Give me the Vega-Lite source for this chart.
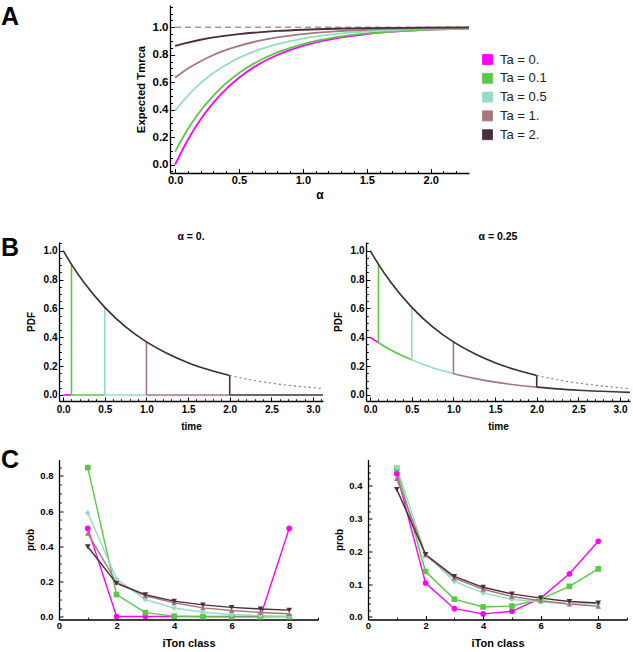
{
  "$schema": "https://vega.github.io/schema/vega-lite/v6.json",
  "padding": {"left": 1, "top": 5, "right": 2, "bottom": 2},
  "background": "white",
  "config": {
    "view": {"stroke": null},
    "font": "Liberation Sans",
    "axis": {"grid": false, "domainColor": "#000", "domainWidth": 1.3, "tickColor": "#000", "tickWidth": 1, "labelFont": "Liberation Sans", "labelFontWeight": "bold", "labelColor": "#000", "labelFlush": false, "labelOverlap": false, "titleFont": "Liberation Sans", "titleFontWeight": "bold", "titleColor": "#000"},
    "title": {"font": "Liberation Sans", "color": "#000"}
  },
  "resolve": {"scale": {"shape": "independent"}, "legend": {"shape": "independent"}},
  "datasets": {
    "A": [
      {"s":"Ta = 0.","a":0,"E":0},{"s":"Ta = 0.","a":0.1,"E":0.181},{"s":"Ta = 0.","a":0.2,"E":0.33},{"s":"Ta = 0.","a":0.3,"E":0.451},{"s":"Ta = 0.","a":0.4,"E":0.551},{"s":"Ta = 0.","a":0.5,"E":0.632},{"s":"Ta = 0.","a":0.65,"E":0.728},{"s":"Ta = 0.","a":0.8,"E":0.798},{"s":"Ta = 0.","a":1,"E":0.865},{"s":"Ta = 0.","a":1.25,"E":0.918},{"s":"Ta = 0.","a":1.5,"E":0.95},{"s":"Ta = 0.","a":1.8,"E":0.973},{"s":"Ta = 0.","a":2.3,"E":0.99},
      {"s":"Ta = 0.1","a":0,"E":0.095},{"s":"Ta = 0.1","a":0.1,"E":0.259},{"s":"Ta = 0.1","a":0.2,"E":0.394},{"s":"Ta = 0.1","a":0.3,"E":0.503},{"s":"Ta = 0.1","a":0.4,"E":0.593},{"s":"Ta = 0.1","a":0.5,"E":0.667},{"s":"Ta = 0.1","a":0.65,"E":0.753},{"s":"Ta = 0.1","a":0.8,"E":0.817},{"s":"Ta = 0.1","a":1,"E":0.878},{"s":"Ta = 0.1","a":1.25,"E":0.926},{"s":"Ta = 0.1","a":1.5,"E":0.955},{"s":"Ta = 0.1","a":1.8,"E":0.975},{"s":"Ta = 0.1","a":2.3,"E":0.991},
      {"s":"Ta = 0.5","a":0,"E":0.393},{"s":"Ta = 0.5","a":0.1,"E":0.503},{"s":"Ta = 0.5","a":0.2,"E":0.593},{"s":"Ta = 0.5","a":0.3,"E":0.667},{"s":"Ta = 0.5","a":0.4,"E":0.727},{"s":"Ta = 0.5","a":0.5,"E":0.777},{"s":"Ta = 0.5","a":0.65,"E":0.835},{"s":"Ta = 0.5","a":0.8,"E":0.878},{"s":"Ta = 0.5","a":1,"E":0.918},{"s":"Ta = 0.5","a":1.25,"E":0.95},{"s":"Ta = 0.5","a":1.5,"E":0.97},{"s":"Ta = 0.5","a":1.8,"E":0.983},{"s":"Ta = 0.5","a":2.3,"E":0.994},
      {"s":"Ta = 1.","a":0,"E":0.632},{"s":"Ta = 1.","a":0.1,"E":0.699},{"s":"Ta = 1.","a":0.2,"E":0.753},{"s":"Ta = 1.","a":0.3,"E":0.798},{"s":"Ta = 1.","a":0.4,"E":0.835},{"s":"Ta = 1.","a":0.5,"E":0.865},{"s":"Ta = 1.","a":0.65,"E":0.9},{"s":"Ta = 1.","a":0.8,"E":0.926},{"s":"Ta = 1.","a":1,"E":0.95},{"s":"Ta = 1.","a":1.25,"E":0.97},{"s":"Ta = 1.","a":1.5,"E":0.982},{"s":"Ta = 1.","a":1.8,"E":0.99},{"s":"Ta = 1.","a":2.3,"E":0.996},
      {"s":"Ta = 2.","a":0,"E":0.865},{"s":"Ta = 2.","a":0.1,"E":0.889},{"s":"Ta = 2.","a":0.2,"E":0.909},{"s":"Ta = 2.","a":0.3,"E":0.926},{"s":"Ta = 2.","a":0.4,"E":0.939},{"s":"Ta = 2.","a":0.5,"E":0.95},{"s":"Ta = 2.","a":0.65,"E":0.963},{"s":"Ta = 2.","a":0.8,"E":0.973},{"s":"Ta = 2.","a":1,"E":0.982},{"s":"Ta = 2.","a":1.25,"E":0.989},{"s":"Ta = 2.","a":1.5,"E":0.993},{"s":"Ta = 2.","a":1.8,"E":0.996},{"s":"Ta = 2.","a":2.3,"E":0.999}
    ],
    "B": [
      {"part":"top","p":"all","s":"Ta = 2.","t":0,"y":1},{"part":"top","p":"all","s":"Ta = 2.","t":0.1,"y":0.905},{"part":"top","p":"all","s":"Ta = 2.","t":0.25,"y":0.779},{"part":"top","p":"all","s":"Ta = 2.","t":0.5,"y":0.607},{"part":"top","p":"all","s":"Ta = 2.","t":0.75,"y":0.472},{"part":"top","p":"all","s":"Ta = 2.","t":1,"y":0.368},{"part":"top","p":"all","s":"Ta = 2.","t":1.25,"y":0.287},{"part":"top","p":"all","s":"Ta = 2.","t":1.5,"y":0.223},{"part":"top","p":"all","s":"Ta = 2.","t":1.75,"y":0.174},{"part":"top","p":"all","s":"Ta = 2.","t":2,"y":0.135},
      {"part":"dot","p":"all","s":"ref","t":2,"y":0.135},{"part":"dot","p":"all","s":"ref","t":2.25,"y":0.105},{"part":"dot","p":"all","s":"ref","t":2.5,"y":0.082},{"part":"dot","p":"all","s":"ref","t":2.75,"y":0.064},{"part":"dot","p":"all","s":"ref","t":3,"y":0.05},{"part":"dot","p":"all","s":"ref","t":3.12,"y":0.044},
      {"part":"bot","p":"a0","s":"Ta = 0.","t":0,"y":0},{"part":"bot","p":"a0","s":"Ta = 0.","t":0.1,"y":0},
      {"part":"bot","p":"a0","s":"Ta = 0.1","t":0.1,"y":0},{"part":"bot","p":"a0","s":"Ta = 0.1","t":0.5,"y":0},
      {"part":"bot","p":"a0","s":"Ta = 0.5","t":0.5,"y":0},{"part":"bot","p":"a0","s":"Ta = 0.5","t":1,"y":0},
      {"part":"bot","p":"a0","s":"Ta = 1.","t":1,"y":0},{"part":"bot","p":"a0","s":"Ta = 1.","t":2,"y":0},
      {"part":"bot","p":"a0","s":"Ta = 2.","t":2,"y":0},{"part":"bot","p":"a0","s":"Ta = 2.","t":3.12,"y":0},
      {"part":"bot","p":"a25","s":"Ta = 0.","t":0,"y":0.4},{"part":"bot","p":"a25","s":"Ta = 0.","t":0.05,"y":0.38},{"part":"bot","p":"a25","s":"Ta = 0.","t":0.1,"y":0.362},
      {"part":"bot","p":"a25","s":"Ta = 0.1","t":0.1,"y":0.362},{"part":"bot","p":"a25","s":"Ta = 0.1","t":0.2,"y":0.327},{"part":"bot","p":"a25","s":"Ta = 0.1","t":0.3,"y":0.296},{"part":"bot","p":"a25","s":"Ta = 0.1","t":0.4,"y":0.268},{"part":"bot","p":"a25","s":"Ta = 0.1","t":0.5,"y":0.243},
      {"part":"bot","p":"a25","s":"Ta = 0.5","t":0.5,"y":0.243},{"part":"bot","p":"a25","s":"Ta = 0.5","t":0.625,"y":0.214},{"part":"bot","p":"a25","s":"Ta = 0.5","t":0.75,"y":0.189},{"part":"bot","p":"a25","s":"Ta = 0.5","t":0.875,"y":0.167},{"part":"bot","p":"a25","s":"Ta = 0.5","t":1,"y":0.147},
      {"part":"bot","p":"a25","s":"Ta = 1.","t":1,"y":0.147},{"part":"bot","p":"a25","s":"Ta = 1.","t":1.25,"y":0.115},{"part":"bot","p":"a25","s":"Ta = 1.","t":1.5,"y":0.089},{"part":"bot","p":"a25","s":"Ta = 1.","t":1.75,"y":0.069},{"part":"bot","p":"a25","s":"Ta = 1.","t":2,"y":0.054},
      {"part":"bot","p":"a25","s":"Ta = 2.","t":2,"y":0.054},{"part":"bot","p":"a25","s":"Ta = 2.","t":2.25,"y":0.042},{"part":"bot","p":"a25","s":"Ta = 2.","t":2.5,"y":0.033},{"part":"bot","p":"a25","s":"Ta = 2.","t":2.75,"y":0.026},{"part":"bot","p":"a25","s":"Ta = 2.","t":3,"y":0.02},{"part":"bot","p":"a25","s":"Ta = 2.","t":3.12,"y":0.018}
    ],
    "BR": [
      {"p":"a0","s":"Ta = 0.1","t":0.1,"lo":0,"hi":0.905},{"p":"a0","s":"Ta = 0.5","t":0.5,"lo":0,"hi":0.607},{"p":"a0","s":"Ta = 1.","t":1,"lo":0,"hi":0.368},{"p":"a0","s":"Ta = 2.","t":2,"lo":0,"hi":0.135},
      {"p":"a25","s":"Ta = 0.1","t":0.1,"lo":0.362,"hi":0.905},{"p":"a25","s":"Ta = 0.5","t":0.5,"lo":0.243,"hi":0.607},{"p":"a25","s":"Ta = 1.","t":1,"lo":0.147,"hi":0.368},{"p":"a25","s":"Ta = 2.","t":2,"lo":0.054,"hi":0.135}
    ],
    "C": [
      {"p":"a0","s":"Ta = 0.","k":1,"v":0.502},{"p":"a0","s":"Ta = 0.","k":2,"v":0.002},{"p":"a0","s":"Ta = 0.","k":3,"v":0.002},{"p":"a0","s":"Ta = 0.","k":4,"v":0.002},{"p":"a0","s":"Ta = 0.","k":5,"v":0.002},{"p":"a0","s":"Ta = 0.","k":6,"v":0.002},{"p":"a0","s":"Ta = 0.","k":7,"v":0.002},{"p":"a0","s":"Ta = 0.","k":8,"v":0.502},
      {"p":"a0","s":"Ta = 0.1","k":1,"v":0.847},{"p":"a0","s":"Ta = 0.1","k":2,"v":0.127},{"p":"a0","s":"Ta = 0.1","k":3,"v":0.024},{"p":"a0","s":"Ta = 0.1","k":4,"v":0.004},{"p":"a0","s":"Ta = 0.1","k":5,"v":0.001},{"p":"a0","s":"Ta = 0.1","k":6,"v":0},{"p":"a0","s":"Ta = 0.1","k":7,"v":0},{"p":"a0","s":"Ta = 0.1","k":8,"v":0},
      {"p":"a0","s":"Ta = 0.5","k":1,"v":0.59},{"p":"a0","s":"Ta = 0.5","k":2,"v":0.216},{"p":"a0","s":"Ta = 0.5","k":3,"v":0.098},{"p":"a0","s":"Ta = 0.5","k":4,"v":0.05},{"p":"a0","s":"Ta = 0.5","k":5,"v":0.026},{"p":"a0","s":"Ta = 0.5","k":6,"v":0.013},{"p":"a0","s":"Ta = 0.5","k":7,"v":0.007},{"p":"a0","s":"Ta = 0.5","k":8,"v":0.004},
      {"p":"a0","s":"Ta = 1.","k":1,"v":0.474},{"p":"a0","s":"Ta = 1.","k":2,"v":0.195},{"p":"a0","s":"Ta = 1.","k":3,"v":0.12},{"p":"a0","s":"Ta = 1.","k":4,"v":0.08},{"p":"a0","s":"Ta = 1.","k":5,"v":0.051},{"p":"a0","s":"Ta = 1.","k":6,"v":0.036},{"p":"a0","s":"Ta = 1.","k":7,"v":0.025},{"p":"a0","s":"Ta = 1.","k":8,"v":0.018},
      {"p":"a0","s":"Ta = 2.","k":1,"v":0.398},{"p":"a0","s":"Ta = 2.","k":2,"v":0.19},{"p":"a0","s":"Ta = 2.","k":3,"v":0.126},{"p":"a0","s":"Ta = 2.","k":4,"v":0.089},{"p":"a0","s":"Ta = 2.","k":5,"v":0.068},{"p":"a0","s":"Ta = 2.","k":6,"v":0.054},{"p":"a0","s":"Ta = 2.","k":7,"v":0.045},{"p":"a0","s":"Ta = 2.","k":8,"v":0.038},
      {"p":"a25","s":"Ta = 0.","k":1,"v":0.436},{"p":"a25","s":"Ta = 0.","k":2,"v":0.103},{"p":"a25","s":"Ta = 0.","k":3,"v":0.025},{"p":"a25","s":"Ta = 0.","k":4,"v":0.009},{"p":"a25","s":"Ta = 0.","k":5,"v":0.017},{"p":"a25","s":"Ta = 0.","k":6,"v":0.057},{"p":"a25","s":"Ta = 0.","k":7,"v":0.131},{"p":"a25","s":"Ta = 0.","k":8,"v":0.23},
      {"p":"a25","s":"Ta = 0.1","k":1,"v":0.452},{"p":"a25","s":"Ta = 0.1","k":2,"v":0.138},{"p":"a25","s":"Ta = 0.1","k":3,"v":0.054},{"p":"a25","s":"Ta = 0.1","k":4,"v":0.03},{"p":"a25","s":"Ta = 0.1","k":5,"v":0.033},{"p":"a25","s":"Ta = 0.1","k":6,"v":0.054},{"p":"a25","s":"Ta = 0.1","k":7,"v":0.093},{"p":"a25","s":"Ta = 0.1","k":8,"v":0.146},
      {"p":"a25","s":"Ta = 0.5","k":1,"v":0.455},{"p":"a25","s":"Ta = 0.5","k":2,"v":0.19},{"p":"a25","s":"Ta = 0.5","k":3,"v":0.108},{"p":"a25","s":"Ta = 0.5","k":4,"v":0.073},{"p":"a25","s":"Ta = 0.5","k":5,"v":0.053},{"p":"a25","s":"Ta = 0.5","k":6,"v":0.046},{"p":"a25","s":"Ta = 0.5","k":7,"v":0.039},{"p":"a25","s":"Ta = 0.5","k":8,"v":0.04},
      {"p":"a25","s":"Ta = 1.","k":1,"v":0.421},{"p":"a25","s":"Ta = 1.","k":2,"v":0.188},{"p":"a25","s":"Ta = 1.","k":3,"v":0.118},{"p":"a25","s":"Ta = 1.","k":4,"v":0.084},{"p":"a25","s":"Ta = 1.","k":5,"v":0.062},{"p":"a25","s":"Ta = 1.","k":6,"v":0.049},{"p":"a25","s":"Ta = 1.","k":7,"v":0.039},{"p":"a25","s":"Ta = 1.","k":8,"v":0.032},
      {"p":"a25","s":"Ta = 2.","k":1,"v":0.388},{"p":"a25","s":"Ta = 2.","k":2,"v":0.19},{"p":"a25","s":"Ta = 2.","k":3,"v":0.123},{"p":"a25","s":"Ta = 2.","k":4,"v":0.09},{"p":"a25","s":"Ta = 2.","k":5,"v":0.07},{"p":"a25","s":"Ta = 2.","k":6,"v":0.057},{"p":"a25","s":"Ta = 2.","k":7,"v":0.047},{"p":"a25","s":"Ta = 2.","k":8,"v":0.042}
    ]
  },
  "spacing": 31,
  "vconcat": [
    {
      "hconcat": [
        {"width": 113, "height": 20, "data": {"values": []}, "mark": "point",
         "title": {"text": "A", "anchor": "start", "frame": "group", "dx": -56, "fontSize": 25, "fontWeight": "bold", "offset": -25}},
        {
          "width": 299, "height": 168,
          "resolve": {"axis": {"x": "independent", "y": "independent"}},
          "layer": [
            {"data": {"values": [{"x0": 0, "x1": 2.3, "y": 1}]},
             "mark": {"type": "rule", "color": "#999", "strokeDash": [6, 4], "strokeWidth": 1.5},
             "encoding": {
               "x": {"field": "x0", "type": "quantitative", "scale": {"domain": [-0.04, 2.3], "nice": false, "zero": false}, "axis": null},
               "x2": {"field": "x1"},
               "y": {"field": "y", "type": "quantitative", "scale": {"domain": [-0.061, 1.162], "nice": false, "zero": false}, "axis": null}}},
            {"data": {"name": "A"},
             "mark": {"type": "line", "strokeWidth": 1.8, "interpolate": "monotone"},
             "encoding": {
               "x": {"field": "a", "type": "quantitative", "scale": {"domain": [-0.04, 2.3], "nice": false, "zero": false},
                     "axis": {"orient": "bottom", "values": [0, 0.5, 1, 1.5, 2], "format": ".1f", "ticks": false, "title": "α", "titleFontSize": 12, "labelFontSize": 11, "labelPadding": 1.5, "titlePadding": 3.5}},
               "y": {"field": "E", "type": "quantitative", "scale": {"domain": [-0.061, 1.162], "nice": false, "zero": false},
                     "axis": {"orient": "left", "values": [0, 0.2, 0.4, 0.6, 0.8, 1], "format": ".1f", "ticks": false, "title": "Expected Tmrca", "titleFontSize": 11.3, "labelFontSize": 11.5, "labelPadding": 2, "titlePadding": 5.5}},
               "color": {"field": "s", "type": "nominal",
                         "scale": {"domain": ["Ta = 0.", "Ta = 0.1", "Ta = 0.5", "Ta = 1.", "Ta = 2."], "range": ["#ff00ff", "#5ac846", "#96dcc3", "#a8767b", "#4b2d3c"]},
                         "legend": {"orient": "none", "legendX": 424, "legendY": 48, "title": null, "symbolType": "square", "symbolSize": 100, "labelFontSize": 13, "labelFont": "Liberation Sans", "labelColor": "#222", "rowPadding": 3.8, "labelOffset": 6, "padding": 0,
                                    "encode": {"symbols": {"update": {"fill": {"scale": "color", "field": "value"}, "fillOpacity": {"value": 1}, "stroke": {"value": "#666"}, "strokeWidth": {"value": 0.8}}}}}}}},
            {"data": {"values": [{"a": 0, "E": 0}]},
             "mark": {"type": "point", "opacity": 0},
             "encoding": {
               "x": {"field": "a", "type": "quantitative", "scale": {"domain": [-0.04, 2.3], "nice": false, "zero": false},
                     "axis": {"orient": "bottom", "values": [0, 0.5, 1, 1.5, 2], "labels": false, "domain": false, "tickSize": -4.5, "title": null}},
               "y": {"field": "E", "type": "quantitative", "scale": {"domain": [-0.061, 1.162], "nice": false, "zero": false},
                     "axis": {"orient": "left", "values": [0, 0.2, 0.4, 0.6, 0.8, 1], "labels": false, "domain": false, "tickSize": -4.5, "title": null}}}},
            {"data": {"values": [{"a": 0, "E": 0}]},
             "mark": {"type": "point", "opacity": 0},
             "encoding": {
               "x": {"field": "a", "type": "quantitative", "scale": {"domain": [-0.04, 2.3], "nice": false, "zero": false},
                     "axis": {"orient": "bottom", "values": [0.1, 0.2, 0.3, 0.4, 0.6, 0.7, 0.8, 0.9, 1.1, 1.2, 1.3, 1.4, 1.6, 1.7, 1.8, 1.9, 2.1, 2.2], "labels": false, "domain": false, "tickSize": -2.5, "title": null}},
               "y": {"field": "E", "type": "quantitative", "scale": {"domain": [-0.061, 1.162], "nice": false, "zero": false},
                     "axis": {"orient": "left", "values": [-0.05, 0.05, 0.1, 0.15, 0.25, 0.3, 0.35, 0.45, 0.5, 0.55, 0.65, 0.7, 0.75, 0.85, 0.9, 0.95, 1.05, 1.1, 1.15], "labels": false, "domain": false, "tickSize": -2.5, "title": null}}}}
          ]
        }
      ],
      "spacing": 0,
      "bounds": "flush"
    },
    {
      "spacing": 15.5,
      "vconcat": [
        {
          "hconcat": [
            {"width": 2, "height": 20, "data": {"values": []}, "mark": "point",
             "title": {"text": "B", "anchor": "start", "frame": "group", "dx": -56, "fontSize": 25, "fontWeight": "bold", "offset": -19.3}},
            {
              "width": 264, "height": 159,
              "title": {"text": "α = 0.", "fontSize": 10.5, "fontWeight": "bold", "offset": 0, "anchor": "middle"},
              "resolve": {"axis": {"x": "independent", "y": "independent"}},
              "layer": [
                {"data": {"name": "B"}, "transform": [{"filter": "datum.part == 'bot' && datum.p == 'a0'"}],
                 "mark": {"type": "line", "strokeWidth": 1.6},
                 "encoding": {
                   "x": {"field": "t", "type": "quantitative", "scale": {"domain": [-0.05, 3.12], "nice": false, "zero": false},
                         "axis": {"orient": "bottom", "values": [0, 0.5, 1, 1.5, 2, 2.5, 3], "format": ".1f", "ticks": false, "title": "time", "titleFontSize": 10, "labelFontSize": 10, "labelPadding": 3.8, "titlePadding": 7}},
                   "y": {"field": "y", "type": "quantitative", "scale": {"domain": [-0.042, 1.06], "nice": false, "zero": false},
                         "axis": {"orient": "left", "values": [0, 0.2, 0.4, 0.6, 0.8, 1], "format": ".1f", "ticks": false, "title": "PDF", "titleFontSize": 10, "labelFontSize": 10, "labelPadding": 2, "titlePadding": 6.5}},
                   "color": {"field": "s", "type": "nominal", "scale": {"domain": ["Ta = 0.", "Ta = 0.1", "Ta = 0.5", "Ta = 1.", "Ta = 2."], "range": ["#ff00ff", "#5ac846", "#96dcc3", "#a8767b", "#4b2d3c"]}, "legend": null}}},
                {"data": {"name": "BR"}, "transform": [{"filter": "datum.p == 'a0'"}],
                 "mark": {"type": "rule", "strokeWidth": 1.6},
                 "encoding": {
                   "x": {"field": "t", "type": "quantitative", "scale": {"domain": [-0.05, 3.12], "nice": false, "zero": false}, "axis": null},
                   "y": {"field": "lo", "type": "quantitative", "scale": {"domain": [-0.042, 1.06], "nice": false, "zero": false}, "axis": null},
                   "y2": {"field": "hi"},
                   "color": {"field": "s", "type": "nominal", "scale": {"domain": ["Ta = 0.", "Ta = 0.1", "Ta = 0.5", "Ta = 1.", "Ta = 2."], "range": ["#ff00ff", "#5ac846", "#96dcc3", "#a8767b", "#4b2d3c"]}, "legend": null}}},
                {"data": {"name": "B"}, "transform": [{"filter": "datum.part == 'top'"}],
                 "mark": {"type": "line", "strokeWidth": 1.6, "color": "#3a2c33", "interpolate": "monotone"},
                 "encoding": {
                   "x": {"field": "t", "type": "quantitative", "scale": {"domain": [-0.05, 3.12], "nice": false, "zero": false}, "axis": null},
                   "y": {"field": "y", "type": "quantitative", "scale": {"domain": [-0.042, 1.06], "nice": false, "zero": false}, "axis": null}}},
                {"data": {"name": "B"}, "transform": [{"filter": "datum.part == 'dot'"}],
                 "mark": {"type": "line", "strokeWidth": 1.1, "color": "#777", "strokeDash": [2, 3], "interpolate": "monotone"},
                 "encoding": {
                   "x": {"field": "t", "type": "quantitative", "scale": {"domain": [-0.05, 3.12], "nice": false, "zero": false}, "axis": null},
                   "y": {"field": "y", "type": "quantitative", "scale": {"domain": [-0.042, 1.06], "nice": false, "zero": false}, "axis": null}}},
                {"data": {"values": [{"t": 0, "y": 0}]},
                 "mark": {"type": "point", "opacity": 0},
                 "encoding": {
                   "x": {"field": "t", "type": "quantitative", "scale": {"domain": [-0.05, 3.12], "nice": false, "zero": false},
                         "axis": {"orient": "bottom", "values": [0, 0.5, 1, 1.5, 2, 2.5, 3], "labels": false, "domain": false, "tickSize": -4, "title": null}},
                   "y": {"field": "y", "type": "quantitative", "scale": {"domain": [-0.042, 1.06], "nice": false, "zero": false},
                         "axis": {"orient": "left", "values": [0, 0.2, 0.4, 0.6, 0.8, 1], "labels": false, "domain": false, "tickSize": -4, "title": null}}}},
                {"data": {"values": [{"t": 0, "y": 0}]},
                 "mark": {"type": "point", "opacity": 0},
                 "encoding": {
                   "x": {"field": "t", "type": "quantitative", "scale": {"domain": [-0.05, 3.12], "nice": false, "zero": false},
                         "axis": {"orient": "bottom", "values": [0.1, 0.2, 0.3, 0.4, 0.6, 0.7, 0.8, 0.9, 1.1, 1.2, 1.3, 1.4, 1.6, 1.7, 1.8, 1.9, 2.1, 2.2, 2.3, 2.4, 2.6, 2.7, 2.8, 2.9, 3.1], "labels": false, "domain": false, "tickSize": -2.3, "title": null}},
                   "y": {"field": "y", "type": "quantitative", "scale": {"domain": [-0.042, 1.06], "nice": false, "zero": false},
                         "axis": {"orient": "left", "values": [0.05, 0.1, 0.15, 0.25, 0.3, 0.35, 0.45, 0.5, 0.55, 0.65, 0.7, 0.75, 0.85, 0.9, 0.95, 1.05], "labels": false, "domain": false, "tickSize": -2.3, "title": null}}}}
              ]
            },
            {"width": 43, "height": 20, "data": {"values": []}, "mark": "point"},
            {
              "width": 264, "height": 159,
              "title": {"text": "α = 0.25", "fontSize": 10.5, "fontWeight": "bold", "offset": 0, "anchor": "middle"},
              "resolve": {"axis": {"x": "independent", "y": "independent"}},
              "layer": [
                {"data": {"name": "B"}, "transform": [{"filter": "datum.part == 'bot' && datum.p == 'a25'"}],
                 "mark": {"type": "line", "strokeWidth": 1.6, "interpolate": "monotone"},
                 "encoding": {
                   "x": {"field": "t", "type": "quantitative", "scale": {"domain": [-0.05, 3.12], "nice": false, "zero": false},
                         "axis": {"orient": "bottom", "values": [0, 0.5, 1, 1.5, 2, 2.5, 3], "format": ".1f", "ticks": false, "title": "time", "titleFontSize": 10, "labelFontSize": 10, "labelPadding": 3.8, "titlePadding": 7}},
                   "y": {"field": "y", "type": "quantitative", "scale": {"domain": [-0.042, 1.06], "nice": false, "zero": false},
                         "axis": {"orient": "left", "values": [0, 0.2, 0.4, 0.6, 0.8, 1], "format": ".1f", "ticks": false, "title": "PDF", "titleFontSize": 10, "labelFontSize": 10, "labelPadding": 2, "titlePadding": 6.5}},
                   "color": {"field": "s", "type": "nominal", "scale": {"domain": ["Ta = 0.", "Ta = 0.1", "Ta = 0.5", "Ta = 1.", "Ta = 2."], "range": ["#ff00ff", "#5ac846", "#96dcc3", "#a8767b", "#4b2d3c"]}, "legend": null}}},
                {"data": {"name": "BR"}, "transform": [{"filter": "datum.p == 'a25'"}],
                 "mark": {"type": "rule", "strokeWidth": 1.6},
                 "encoding": {
                   "x": {"field": "t", "type": "quantitative", "scale": {"domain": [-0.05, 3.12], "nice": false, "zero": false}, "axis": null},
                   "y": {"field": "lo", "type": "quantitative", "scale": {"domain": [-0.042, 1.06], "nice": false, "zero": false}, "axis": null},
                   "y2": {"field": "hi"},
                   "color": {"field": "s", "type": "nominal", "scale": {"domain": ["Ta = 0.", "Ta = 0.1", "Ta = 0.5", "Ta = 1.", "Ta = 2."], "range": ["#ff00ff", "#5ac846", "#96dcc3", "#a8767b", "#4b2d3c"]}, "legend": null}}},
                {"data": {"name": "B"}, "transform": [{"filter": "datum.part == 'top'"}],
                 "mark": {"type": "line", "strokeWidth": 1.6, "color": "#3a2c33", "interpolate": "monotone"},
                 "encoding": {
                   "x": {"field": "t", "type": "quantitative", "scale": {"domain": [-0.05, 3.12], "nice": false, "zero": false}, "axis": null},
                   "y": {"field": "y", "type": "quantitative", "scale": {"domain": [-0.042, 1.06], "nice": false, "zero": false}, "axis": null}}},
                {"data": {"name": "B"}, "transform": [{"filter": "datum.part == 'dot'"}],
                 "mark": {"type": "line", "strokeWidth": 1.1, "color": "#777", "strokeDash": [2, 3], "interpolate": "monotone"},
                 "encoding": {
                   "x": {"field": "t", "type": "quantitative", "scale": {"domain": [-0.05, 3.12], "nice": false, "zero": false}, "axis": null},
                   "y": {"field": "y", "type": "quantitative", "scale": {"domain": [-0.042, 1.06], "nice": false, "zero": false}, "axis": null}}},
                {"data": {"values": [{"t": 0, "y": 0}]},
                 "mark": {"type": "point", "opacity": 0},
                 "encoding": {
                   "x": {"field": "t", "type": "quantitative", "scale": {"domain": [-0.05, 3.12], "nice": false, "zero": false},
                         "axis": {"orient": "bottom", "values": [0, 0.5, 1, 1.5, 2, 2.5, 3], "labels": false, "domain": false, "tickSize": -4, "title": null}},
                   "y": {"field": "y", "type": "quantitative", "scale": {"domain": [-0.042, 1.06], "nice": false, "zero": false},
                         "axis": {"orient": "left", "values": [0, 0.2, 0.4, 0.6, 0.8, 1], "labels": false, "domain": false, "tickSize": -4, "title": null}}}},
                {"data": {"values": [{"t": 0, "y": 0}]},
                 "mark": {"type": "point", "opacity": 0},
                 "encoding": {
                   "x": {"field": "t", "type": "quantitative", "scale": {"domain": [-0.05, 3.12], "nice": false, "zero": false},
                         "axis": {"orient": "bottom", "values": [0.1, 0.2, 0.3, 0.4, 0.6, 0.7, 0.8, 0.9, 1.1, 1.2, 1.3, 1.4, 1.6, 1.7, 1.8, 1.9, 2.1, 2.2, 2.3, 2.4, 2.6, 2.7, 2.8, 2.9, 3.1], "labels": false, "domain": false, "tickSize": -2.3, "title": null}},
                   "y": {"field": "y", "type": "quantitative", "scale": {"domain": [-0.042, 1.06], "nice": false, "zero": false},
                         "axis": {"orient": "left", "values": [0.05, 0.1, 0.15, 0.25, 0.3, 0.35, 0.45, 0.5, 0.55, 0.65, 0.7, 0.75, 0.85, 0.9, 0.95, 1.05], "labels": false, "domain": false, "tickSize": -2.3, "title": null}}}}
              ]
            }
          ],
          "spacing": 0,
          "bounds": "flush"
        },
        {
          "hconcat": [
            {"width": 2, "height": 20, "data": {"values": []}, "mark": "point",
             "title": {"text": "C", "anchor": "start", "frame": "group", "dx": -56, "fontSize": 25, "fontWeight": "bold", "offset": -13.3}},
            {
              "width": 259, "height": 160,
              "resolve": {"axis": {"x": "independent", "y": "independent"}},
              "layer": [
                {"data": {"name": "C"}, "transform": [{"filter": "datum.p == 'a0'"}],
                 "mark": {"type": "line", "strokeWidth": 1.4},
                 "encoding": {
                   "x": {"field": "k", "type": "quantitative", "scale": {"domain": [0, 9], "nice": false, "zero": false},
                         "axis": {"orient": "bottom", "values": [0, 2, 4, 6, 8], "format": "d", "ticks": false, "title": "iTon class", "titleFontSize": 11, "labelFontSize": 9.5, "labelPadding": 0.5, "titlePadding": 8}},
                   "y": {"field": "v", "type": "quantitative", "scale": {"domain": [-0.015, 0.893], "nice": false, "zero": false},
                         "axis": {"orient": "left", "values": [0, 0.2, 0.4, 0.6, 0.8], "format": ".1f", "ticks": false, "title": "prob", "titleFontSize": 10, "labelFontSize": 9.5, "labelPadding": 6, "titlePadding": 4}},
                   "color": {"field": "s", "type": "nominal", "scale": {"domain": ["Ta = 0.", "Ta = 0.1", "Ta = 0.5", "Ta = 1.", "Ta = 2."], "range": ["#ff00ff", "#5ac846", "#96dcc3", "#a8767b", "#4b2d3c"]}, "legend": null}}},
                {"data": {"name": "C"}, "transform": [{"filter": "datum.p == 'a0'"}],
                 "mark": {"type": "point", "filled": true, "opacity": 1, "size": 32},
                 "encoding": {
                   "x": {"field": "k", "type": "quantitative", "scale": {"domain": [0, 9], "nice": false, "zero": false}, "axis": null},
                   "y": {"field": "v", "type": "quantitative", "scale": {"domain": [-0.015, 0.893], "nice": false, "zero": false}, "axis": null},
                   "color": {"field": "s", "type": "nominal", "scale": {"domain": ["Ta = 0.", "Ta = 0.1", "Ta = 0.5", "Ta = 1.", "Ta = 2."], "range": ["#ff00ff", "#5ac846", "#96dcc3", "#a8767b", "#4b2d3c"]}, "legend": null},
                   "shape": {"field": "s", "type": "nominal", "scale": {"domain": ["Ta = 0.", "Ta = 0.1", "Ta = 0.5", "Ta = 1.", "Ta = 2."], "range": ["circle", "square", "diamond", "triangle-up", "triangle-down"]}, "legend": null}}},
                {"data": {"values": [{"k": 0, "v": 0}]},
                 "mark": {"type": "point", "opacity": 0},
                 "encoding": {
                   "x": {"field": "k", "type": "quantitative", "scale": {"domain": [0, 9], "nice": false, "zero": false},
                         "axis": {"orient": "bottom", "values": [0, 2, 4, 6, 8], "labels": false, "domain": false, "tickSize": -4, "title": null}},
                   "y": {"field": "v", "type": "quantitative", "scale": {"domain": [-0.015, 0.893], "nice": false, "zero": false},
                         "axis": {"orient": "left", "values": [0, 0.2, 0.4, 0.6, 0.8], "labels": false, "domain": false, "tickSize": -4, "title": null}}}},
                {"data": {"values": [{"k": 0, "v": 0}]},
                 "mark": {"type": "point", "opacity": 0},
                 "encoding": {
                   "x": {"field": "k", "type": "quantitative", "scale": {"domain": [0, 9], "nice": false, "zero": false},
                         "axis": {"orient": "bottom", "values": [1, 3, 5, 7, 9], "labels": false, "domain": false, "tickSize": -2.3, "title": null}},
                   "y": {"field": "v", "type": "quantitative", "scale": {"domain": [-0.015, 0.893], "nice": false, "zero": false},
                         "axis": {"orient": "left", "values": [0.05, 0.1, 0.15, 0.25, 0.3, 0.35, 0.45, 0.5, 0.55, 0.65, 0.7, 0.75, 0.85], "labels": false, "domain": false, "tickSize": -2.3, "title": null}}}}
              ]
            },
            {"width": 50, "height": 20, "data": {"values": []}, "mark": "point"},
            {
              "width": 259, "height": 160,
              "resolve": {"axis": {"x": "independent", "y": "independent"}},
              "layer": [
                {"data": {"name": "C"}, "transform": [{"filter": "datum.p == 'a25'"}],
                 "mark": {"type": "line", "strokeWidth": 1.4},
                 "encoding": {
                   "x": {"field": "k", "type": "quantitative", "scale": {"domain": [0, 9], "nice": false, "zero": false},
                         "axis": {"orient": "bottom", "values": [0, 2, 4, 6, 8], "format": "d", "ticks": false, "title": "iTon class", "titleFontSize": 11, "labelFontSize": 9.5, "labelPadding": 0.5, "titlePadding": 8}},
                   "y": {"field": "v", "type": "quantitative", "scale": {"domain": [-0.008, 0.479], "nice": false, "zero": false},
                         "axis": {"orient": "left", "values": [0, 0.1, 0.2, 0.3, 0.4], "format": ".1f", "ticks": false, "title": "prob", "titleFontSize": 10, "labelFontSize": 9.5, "labelPadding": 6, "titlePadding": 4}},
                   "color": {"field": "s", "type": "nominal", "scale": {"domain": ["Ta = 0.", "Ta = 0.1", "Ta = 0.5", "Ta = 1.", "Ta = 2."], "range": ["#ff00ff", "#5ac846", "#96dcc3", "#a8767b", "#4b2d3c"]}, "legend": null}}},
                {"data": {"name": "C"}, "transform": [{"filter": "datum.p == 'a25'"}],
                 "mark": {"type": "point", "filled": true, "opacity": 1, "size": 32},
                 "encoding": {
                   "x": {"field": "k", "type": "quantitative", "scale": {"domain": [0, 9], "nice": false, "zero": false}, "axis": null},
                   "y": {"field": "v", "type": "quantitative", "scale": {"domain": [-0.008, 0.479], "nice": false, "zero": false}, "axis": null},
                   "color": {"field": "s", "type": "nominal", "scale": {"domain": ["Ta = 0.", "Ta = 0.1", "Ta = 0.5", "Ta = 1.", "Ta = 2."], "range": ["#ff00ff", "#5ac846", "#96dcc3", "#a8767b", "#4b2d3c"]}, "legend": null},
                   "shape": {"field": "s", "type": "nominal", "scale": {"domain": ["Ta = 0.", "Ta = 0.1", "Ta = 0.5", "Ta = 1.", "Ta = 2."], "range": ["circle", "square", "diamond", "triangle-up", "triangle-down"]}, "legend": null}}},
                {"data": {"values": [{"k": 0, "v": 0}]},
                 "mark": {"type": "point", "opacity": 0},
                 "encoding": {
                   "x": {"field": "k", "type": "quantitative", "scale": {"domain": [0, 9], "nice": false, "zero": false},
                         "axis": {"orient": "bottom", "values": [0, 2, 4, 6, 8], "labels": false, "domain": false, "tickSize": -4, "title": null}},
                   "y": {"field": "v", "type": "quantitative", "scale": {"domain": [-0.008, 0.479], "nice": false, "zero": false},
                         "axis": {"orient": "left", "values": [0, 0.1, 0.2, 0.3, 0.4], "labels": false, "domain": false, "tickSize": -4, "title": null}}}},
                {"data": {"values": [{"k": 0, "v": 0}]},
                 "mark": {"type": "point", "opacity": 0},
                 "encoding": {
                   "x": {"field": "k", "type": "quantitative", "scale": {"domain": [0, 9], "nice": false, "zero": false},
                         "axis": {"orient": "bottom", "values": [1, 3, 5, 7, 9], "labels": false, "domain": false, "tickSize": -2.3, "title": null}},
                   "y": {"field": "v", "type": "quantitative", "scale": {"domain": [-0.008, 0.479], "nice": false, "zero": false},
                         "axis": {"orient": "left", "values": [0.02, 0.04, 0.06, 0.08, 0.12, 0.14, 0.16, 0.18, 0.22, 0.24, 0.26, 0.28, 0.32, 0.34, 0.36, 0.38, 0.42, 0.44, 0.46], "labels": false, "domain": false, "tickSize": -2.3, "title": null}}}}
              ]
            }
          ],
          "spacing": 0,
          "bounds": "flush"
        }
      ]
    }
  ]
}
